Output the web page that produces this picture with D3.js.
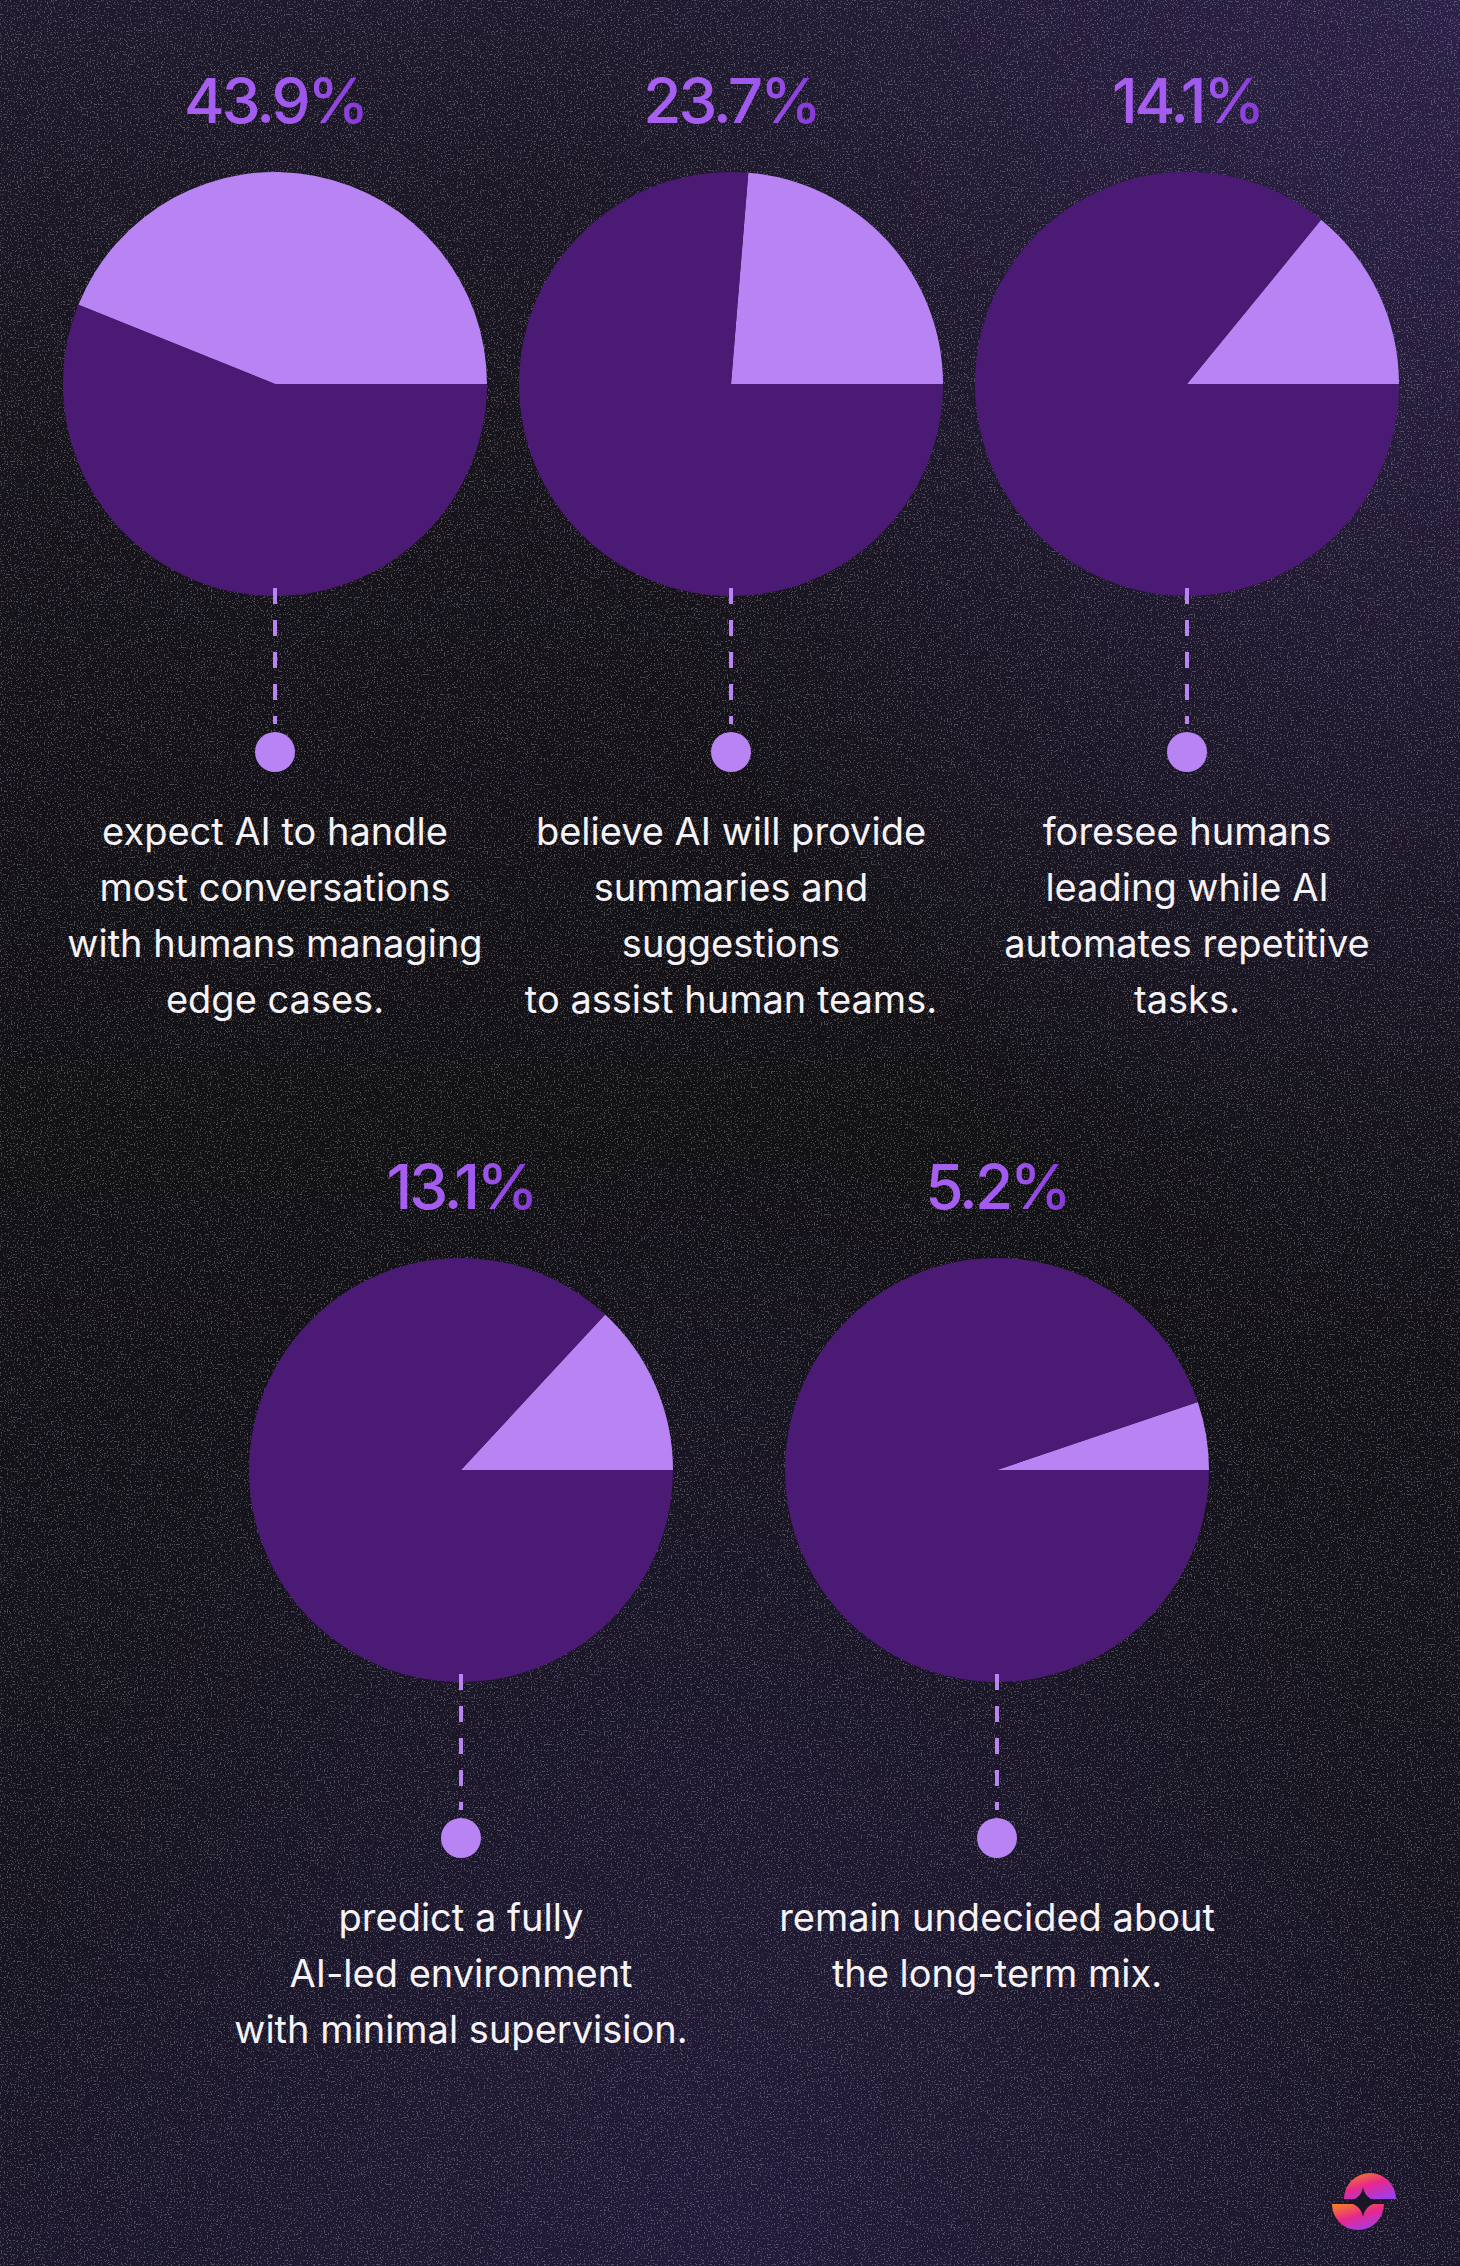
<!DOCTYPE html>
<html>
<head>
<meta charset="utf-8">
<script src="https://cdn.jsdelivr.net/npm/d3@7"></script>
<style>
  html, body { margin: 0; padding: 0; background: #141317; }
  svg { display: block; }
</style>
</head>
<body>
<svg id="chart" width="1460" height="2266"></svg>
<script>
// ---- data ----
const categories = ["ai_most", "ai_assist", "humans_lead", "fully_ai", "undecided"];
const values = [43.9, 23.7, 14.1, 13.1, 5.2];
const valueLabels = ["43.9%", "23.7%", "14.1%", "13.1%", "5.2%"];
const descriptions = [
  ["expect AI to handle", "most conversations", "with humans managing", "edge cases."],
  ["believe AI will provide", "summaries and", "suggestions", "to assist human teams."],
  ["foresee humans", "leading while AI", "automates repetitive", "tasks."],
  ["predict a fully", "AI-led environment", "with minimal supervision."],
  ["remain undecided about", "the long-term mix."]
];
const rows = [["ai_most", "ai_assist", "humans_lead"], ["fully_ai", "undecided"]];

// ---- layout ----
const W = 1460, H = 2266;
const R = 212;
const rowCy = [384, 1470];
const rowX = [[275, 1187], [461, 997]];
const colors = { light: "#b883f2", dark: "#4a1a74" };

const svg = d3.select("#chart");
const defs = svg.append("defs");

// background gradients
const bg = defs.append("linearGradient").attr("id", "bg").attr("x1", 0).attr("y1", 0).attr("x2", 0).attr("y2", 1);
bg.append("stop").attr("offset", "0%").attr("stop-color", "#1f1a2d");
bg.append("stop").attr("offset", "20%").attr("stop-color", "#17141c");
bg.append("stop").attr("offset", "50%").attr("stop-color", "#121114");
bg.append("stop").attr("offset", "80%").attr("stop-color", "#16141e");
bg.append("stop").attr("offset", "100%").attr("stop-color", "#1c172b");
const rg = defs.append("radialGradient").attr("id", "rg").attr("cx", 1).attr("cy", 0).attr("r", 0.6);
rg.append("stop").attr("offset", "0%").attr("stop-color", "#2c2148").attr("stop-opacity", 1);
rg.append("stop").attr("offset", "100%").attr("stop-color", "#2c2148").attr("stop-opacity", 0);
const rg2 = defs.append("radialGradient").attr("id", "rg2").attr("cx", 0.5).attr("cy", 1).attr("r", 0.5);
rg2.append("stop").attr("offset", "0%").attr("stop-color", "#241c3c").attr("stop-opacity", 0.9);
rg2.append("stop").attr("offset", "100%").attr("stop-color", "#241c3c").attr("stop-opacity", 0);

// noise speckle filter
const f = defs.append("filter").attr("id", "noise").attr("x", 0).attr("y", 0).attr("width", "100%").attr("height", "100%");
f.append("feTurbulence").attr("type", "fractalNoise").attr("baseFrequency", 0.7).attr("numOctaves", 1).attr("seed", 3).attr("result", "t");
f.append("feColorMatrix").attr("in", "t").attr("type", "matrix")
  .attr("values", "0 0 0 0 0.6  0 0 0 0 0.6  0 0 0 0 0.68  0 0 0 16 -9.6");

svg.append("rect").attr("width", W).attr("height", H).attr("fill", "url(#bg)");
svg.append("rect").attr("width", W).attr("height", H).attr("fill", "url(#rg)");
svg.append("rect").attr("width", W).attr("height", H).attr("fill", "url(#rg2)");
svg.append("rect").attr("width", W).attr("height", H).attr("filter", "url(#noise)").attr("opacity", 0.3);

// value label gradient
const tg = defs.append("linearGradient").attr("id", "tg").attr("x1", 0).attr("x2", 1).attr("y1", 0).attr("y2", 0);
tg.append("stop").attr("offset", "0%").attr("stop-color", "#a960f1");
tg.append("stop").attr("offset", "60%").attr("stop-color", "#a059ee");
tg.append("stop").attr("offset", "100%").attr("stop-color", "#8537d6");

const pie = d3.pie().sort(null).value(d => d).startAngle(Math.PI / 2).endAngle(Math.PI / 2 - 2 * Math.PI);
const arc = d3.arc().innerRadius(0).outerRadius(R);

rows.forEach((row, ri) => {
  const x = d3.scalePoint().domain(row).range(rowX[ri]);
  const cy = rowCy[ri];
  row.forEach(cat => {
    const i = categories.indexOf(cat);
    const cx = x(cat);
    const g = svg.append("g").attr("transform", `translate(${cx},${cy})`);
    const slices = pie([values[i], 100 - values[i]]);
    g.selectAll("path").data(slices).join("path")
      .attr("d", arc)
      .attr("fill", (d, k) => k === 0 ? colors.light : colors.dark);

    // value label
    g.append("text").attr("x", 0).attr("y", -261)
      .attr("text-anchor", "middle")
      .attr("font-family", "Inter, 'Open Sans', sans-serif")
      .attr("font-weight", 500)
      .attr("font-size", 62)
      .attr("letter-spacing", -3)
      .attr("fill", "url(#tg)")
      .text(valueLabels[i]);

    // dashed connector
    g.append("line").attr("x1", 0).attr("x2", 0).attr("y1", R - 8).attr("y2", 340)
      .attr("stroke", colors.light).attr("stroke-width", 4)
      .attr("stroke-dasharray", "16 16");
    g.append("circle").attr("cx", 0).attr("cy", 368).attr("r", 20).attr("fill", colors.light);

    // description
    const t = g.append("text").attr("text-anchor", "middle")
      .attr("font-family", "Inter, 'Open Sans', sans-serif")
      .attr("font-weight", 400)
      .attr("font-size", 38)
      .attr("fill", "#f4f2f6");
    descriptions[i].forEach((line, li) => {
      t.append("tspan").attr("x", 0).attr("y", 461 + li * 56).text(line);
    });
  });
});

// logo
const lg = defs.append("linearGradient").attr("id", "lg").attr("x1", 0.2).attr("y1", 0).attr("x2", 0.8).attr("y2", 1);
lg.append("stop").attr("offset", "0%").attr("stop-color", "#f47a2a");
lg.append("stop").attr("offset", "45%").attr("stop-color", "#e8288c");
lg.append("stop").attr("offset", "100%").attr("stop-color", "#9a3ff0");
const logo = svg.append("g").attr("transform", "translate(1363,2202)");
const logoShapes = logo.append("g").attr("fill", "url(#lg)");
logoShapes.append("path").attr("d", d3.arc()({ innerRadius: 0, outerRadius: 26, startAngle: -Math.PI / 2, endAngle: Math.PI / 2 }))
  .attr("transform", "translate(7,-3)");
logoShapes.append("path").attr("d", d3.arc()({ innerRadius: 0, outerRadius: 26, startAngle: Math.PI / 2, endAngle: 3 * Math.PI / 2 }))
  .attr("transform", "translate(-5,2)");
logo.append("path")
  .attr("d", "M0,-15 Q2,-2 18,0 Q2,2 0,15 Q-2,2 -18,0 Q-2,-2 0,-15 Z")
  .attr("fill", "#1a1626");
</script>
</body>
</html>
